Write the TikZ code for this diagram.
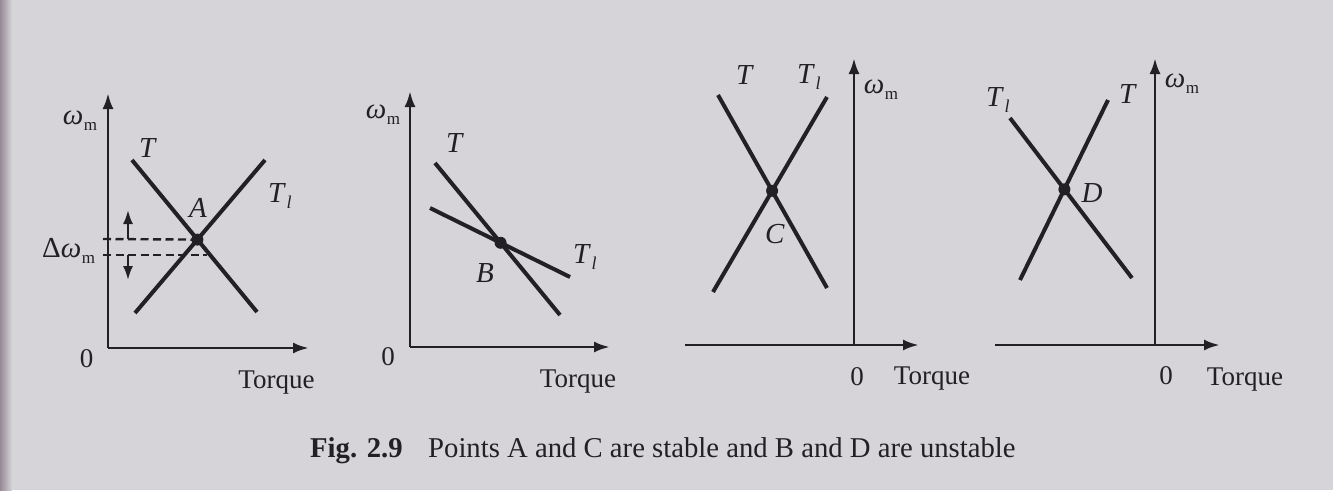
\documentclass[tikz,border=0pt]{standalone}
\usepackage{fontspec}
\setmainfont{Liberation Serif}
\usetikzlibrary{arrows.meta}
\definecolor{paper}{RGB}{214,211,217}
\definecolor{edgeshade}{RGB}{150,138,150}
\definecolor{ink}{RGB}{34,32,36}
\newcommand\omegaM{\textit{ω}\kern0.5pt\raisebox{-6pt}{\fontsize{17}{17}\selectfont m}}
\newcommand\TLoad{\textit{T}\kern0.5pt\raisebox{-6pt}{\fontsize{18}{18}\selectfont\itshape l}}
\begin{document}
\begin{tikzpicture}[x=1pt,y=-1pt,
  axis/.style={ink,line width=2.9pt,-{Latex[length=16pt,width=11pt]}},
  curve/.style={ink,line width=4pt},
  dashline/.style={ink,line width=2.4pt,dash pattern=on 8pt off 4.5pt},
  lbl/.style={ink,inner sep=0pt,anchor=base,font=\fontsize{29}{31}\selectfont},
  axlbl/.style={ink,inner sep=0pt,anchor=base,font=\fontsize{27}{29}\selectfont},
  caplbl/.style={ink,inner sep=0pt,anchor=base west,font=\fontsize{28.7}{30}\selectfont},
  dot/.style={circle,fill=ink,inner sep=0pt,minimum size=12pt},
  dimarrow/.style={ink,line width=2.2pt,-{Latex[length=14pt,width=10pt]}}]

\fill[paper] (0,0) rectangle (1333,490);
\shade[left color=edgeshade,right color=paper] (0,0) rectangle (12,490);
\useasboundingbox (0,0) rectangle (1333,490);

% ---------------- Panel 1 ----------------
\coordinate (o1) at (108,348);
\coordinate (y1) at (108,93);
\coordinate (x1) at (309,348);
\draw[axis] (o1) -- (y1);
\draw[axis] (o1) -- (x1);
\coordinate (t1a) at (132,160);
\coordinate (t1b) at (257,312);
\coordinate (l1a) at (135,313);
\coordinate (l1b) at (265,160);
\draw[curve] (t1a) -- (t1b);
\draw[curve] (l1a) -- (l1b);
\node[dot] (A) at (197.4,239.6) {};
\coordinate (d1a) at (103,239);
\coordinate (d2a) at (103,255);
\coordinate (d2b) at (207,255);
\draw[dashline] (d1a) -- (A.center);
\draw[dashline] (d2a) -- (d2b);
\coordinate (ar1s) at (128,239);
\coordinate (ar1e) at (128,210);
\coordinate (ar2s) at (128,255);
\coordinate (ar2e) at (128,280);
\draw[dimarrow] (ar1s) -- (ar1e);
\draw[dimarrow] (ar2s) -- (ar2e);
\node[lbl] (w1) at (80,124) {\omegaM};
\node[lbl,anchor=base west] (dw1) at (42,257) {Δ\omegaM};
\node[axlbl] (z1) at (86.5,367) {0};
\node[axlbl] (tq1) at (276.5,388) {Torque};
\node[lbl] (T1) at (148,157) {\textit{T}};
\node[lbl,anchor=base west] (L1) at (268,202) {\TLoad};
\node[lbl] (Alab) at (198,217) {\textit{A}};

% ---------------- Panel 2 ----------------
\coordinate (o2) at (410,347);
\coordinate (y2) at (410,91);
\coordinate (x2) at (610,347);
\draw[axis] (o2) -- (y2);
\draw[axis] (o2) -- (x2);
\coordinate (t2a) at (435,163);
\coordinate (t2b) at (560,315);
\coordinate (l2a) at (430,208);
\coordinate (l2b) at (570,277);
\draw[curve] (t2a) -- (t2b);
\draw[curve] (l2a) -- (l2b);
\node[dot] (B) at (500.6,242.8) {};
\node[lbl] (w2) at (383,118) {\omegaM};
\node[axlbl] (z2) at (388,365) {0};
\node[axlbl] (tq2) at (578,387) {Torque};
\node[lbl] (T2) at (455,152) {\textit{T}};
\node[lbl,anchor=base west] (L2) at (573,263) {\TLoad};
\node[lbl] (Blab) at (485,282) {\textit{B}};

% ---------------- Panel 3 ----------------
\coordinate (o3) at (854,345);
\coordinate (y3) at (854,58);
\coordinate (xl3) at (685,345);
\coordinate (x3) at (919,345);
\draw[axis] (o3) -- (y3);
\draw[axis] (xl3) -- (x3);
\coordinate (t3a) at (718,95);
\coordinate (t3b) at (827,288);
\coordinate (l3a) at (713,292);
\coordinate (l3b) at (827,97);
\draw[curve] (t3a) -- (t3b);
\draw[curve] (l3a) -- (l3b);
\node[dot] (C) at (772.1,190.8) {};
\node[lbl] (w3) at (881,93) {\omegaM};
\node[axlbl] (z3) at (857,385) {0};
\node[axlbl] (tq3) at (932,384) {Torque};
\node[lbl] (T3) at (745,84) {\textit{T}};
\node[lbl,anchor=base west] (L3) at (797,83) {\TLoad};
\node[lbl] (Clab) at (775,243) {\textit{C}};

% ---------------- Panel 4 ----------------
\coordinate (o4) at (1155,345);
\coordinate (y4) at (1155,58);
\coordinate (xl4) at (995,345);
\coordinate (x4) at (1220,345);
\draw[axis] (o4) -- (y4);
\draw[axis] (xl4) -- (x4);
\coordinate (l4a) at (1010,118);
\coordinate (l4b) at (1132,278);
\coordinate (t4a) at (1020,280);
\coordinate (t4b) at (1108,100);
\draw[curve] (l4a) -- (l4b);
\draw[curve] (t4a) -- (t4b);
\node[dot] (D) at (1064.4,189.3) {};
\node[lbl] (w4) at (1182,87) {\omegaM};
\node[axlbl] (z4) at (1166,384) {0};
\node[axlbl] (tq4) at (1245,385) {Torque};
\node[lbl] (T4) at (1128,103) {\textit{T}};
\node[lbl,anchor=base west] (L4) at (986,106) {\TLoad};
\node[lbl] (Dlab) at (1092,202) {\textit{D}};

% ---------------- Caption ----------------
\node[caplbl] (capfig) at (310,457) {\textbf{Fig. 2.9}};
\node[caplbl] (captxt) at (428,457) {Points A and C are stable and B and D are unstable};
\end{tikzpicture}
\end{document}
